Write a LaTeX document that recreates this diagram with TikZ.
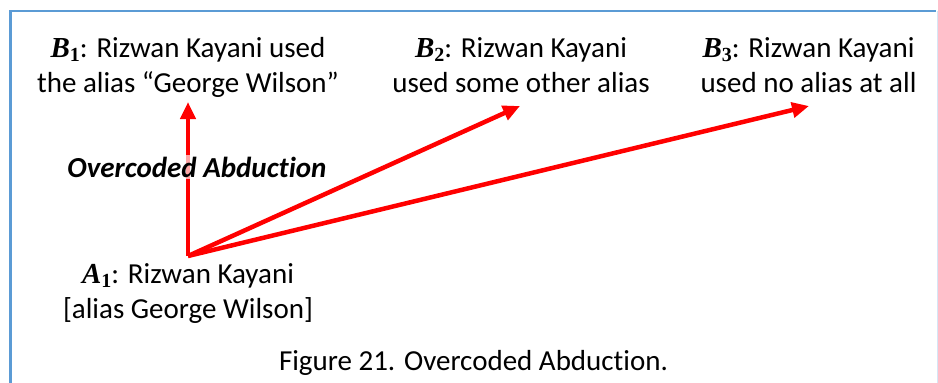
\documentclass[tikz,border=0pt]{standalone}
\usepackage{fontspec}
\setmainfont{Carlito}[Ligatures=NoCommon]
\newfontfamily\varfont{Liberation Serif}
\usetikzlibrary{arrows.meta}
\definecolor{framecol}{HTML}{5B9BD5}
\definecolor{arrowred}{HTML}{FF0000}
% bold italic variable name with a bold upright subscript
\newcommand\varname[2]{{\varfont\bfseries\itshape #1}\raisebox{-0.32ex}{\fontsize{20}{20}\selectfont\varfont\bfseries #2}}
\begin{document}
\begin{tikzpicture}[x=1pt,y=-1pt,
  txt/.style={font=\fontsize{29}{35}\selectfont, align=center, inner sep=0pt, anchor=base},
  impl/.style={draw=arrowred, line width=4.5pt, line join=miter,
    -{Triangle[length=17pt,width=15pt]}},
]
\useasboundingbox (0,0) rectangle (938,383);
% frame
\draw[framecol, line width=2.5pt] (10.5,390) -- (10.5,11) -- (936,11);
\draw[framecol!25, line width=1pt] (937,11) -- (937,390);

% statements (anchored at the baseline of their last line)
\node[txt] (B1) at (188,92) {\varname{B}{1}: Rizwan Kayani used\\the alias “George Wilson”};
\node[txt] (B2) at (521,92) {\varname{B}{2}: Rizwan Kayani\\used some other alias};
\node[txt] (B3) at (808.5,92) {\varname{B}{3}: Rizwan Kayani\\used no alias at all};
\node[txt] (A1) at (188,318) {\varname{A}{1}: Rizwan Kayani\\{}[alias George Wilson]};

% connectors
\coordinate (o) at (188,256);
\coordinate (t1) at (188,102);
\coordinate (t2) at (520,106);
\coordinate (t3) at (809,106);
\draw[impl] (o) -- (t1);
\draw[impl] (o) -- (t2);
\draw[impl] (o) -- (t3);

\node[txt, font=\fontsize{29}{35}\selectfont\bfseries\itshape, fill=white,
  fill opacity=.65, text opacity=1, inner sep=2pt] (oa) at (197,177) {Overcoded Abduction};

\node[txt] (cap) at (473.5,370) {Figure 21. Overcoded Abduction.};
\end{tikzpicture}
\end{document}
